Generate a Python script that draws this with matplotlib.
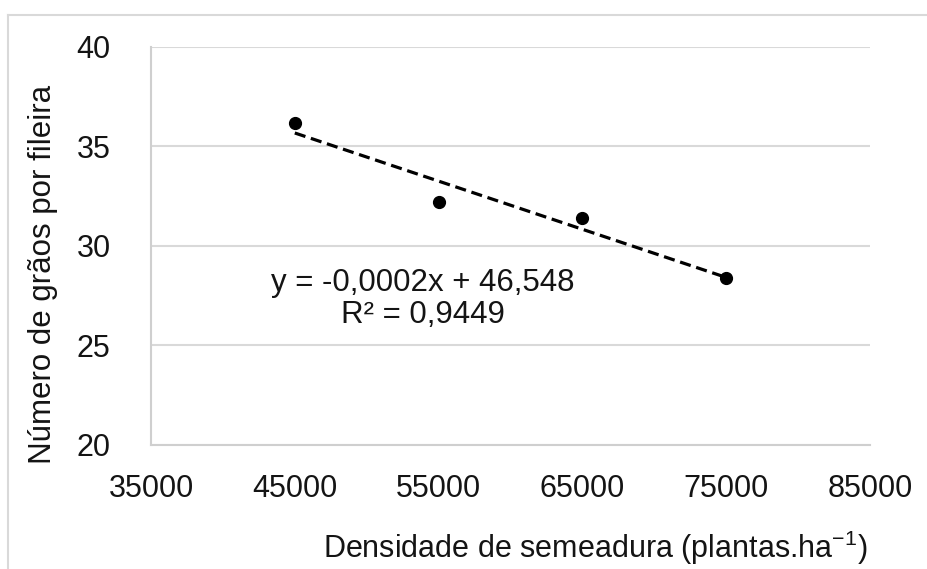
import numpy as np
import matplotlib.pyplot as plt
from matplotlib.lines import Line2D

# densidade de semeadura (plantas/ha) e número de grãos por fileira
densidade = [45000, 55000, 65000, 75000]
graos = [36.2, 32.2, 31.4, 28.4]
xticks = [35000, 45000, 55000, 65000, 75000, 85000]
yticks = [20, 25, 30, 35, 40]
equacao = "y = -0,0002x + 46,548\nR² = 0,9449"

plt.rcParams['font.family'] = ['Liberation Sans', 'DejaVu Sans']
plt.rcParams['mathtext.fontset'] = 'custom'
plt.rcParams['mathtext.rm'] = 'Liberation Sans'
txt = '#141414'

fig = plt.figure(figsize=(9.28, 5.69), dpi=100)
ax = fig.add_axes([151/928, 1-445/569, 719/928, 398/569])

# linha de tendência linear
coef = np.polyfit(densidade, graos, 1)
xt = np.array([densidade[0], densidade[-1]])
ax.plot(xt, np.polyval(coef, xt), color='black', lw=2.3, ls=(0, (3.5, 1.8)), zorder=3)
ax.plot(densidade, graos, 'o', color='black', ms=8.5, zorder=4)

ax.set_xlim(35000, 85000)
ax.set_ylim(20, 40)
ax.set_xticks(xticks)
ax.set_yticks(yticks)
ax.tick_params(length=0, labelsize=22, colors=txt)
ax.tick_params(axis='y', pad=29)
ax.tick_params(axis='x', pad=21)
ax.grid(axis='y', color='#d9d9d9', lw=1.5)
ax.set_axisbelow(True)
for s in ['top', 'right']:
    ax.spines[s].set_visible(False)
ax.spines['left'].set_color('#cfcfcf')
ax.spines['bottom'].set_color('#cfcfcf')
ax.spines['left'].set_linewidth(1.5)
ax.spines['bottom'].set_linewidth(1.5)

ax.text(53900, 27.35, equacao, ha='center', va='center', fontsize=22.5,
        color=txt, linespacing=1.1)

fig.text(43/928, 1-274/569, 'Número de grãos por fileira', rotation=90,
         ha='center', va='center', fontsize=22.5, color=txt)
fig.text(595/928, 1-548/569, 'Densidade de semeadura (plantas.ha$^{\\mathrm{-1}}$)',
         ha='center', va='center', fontsize=22, color=txt)

# moldura do gráfico
fig.add_artist(Line2D([8/928, 8/928], [0, 1-15/569], transform=fig.transFigure,
                      color='#d9d9d9', lw=1.5))
fig.add_artist(Line2D([8/928, 1], [1-15/569, 1-15/569], transform=fig.transFigure,
                      color='#d9d9d9', lw=1.5))

fig.savefig('out.png', dpi=100)
